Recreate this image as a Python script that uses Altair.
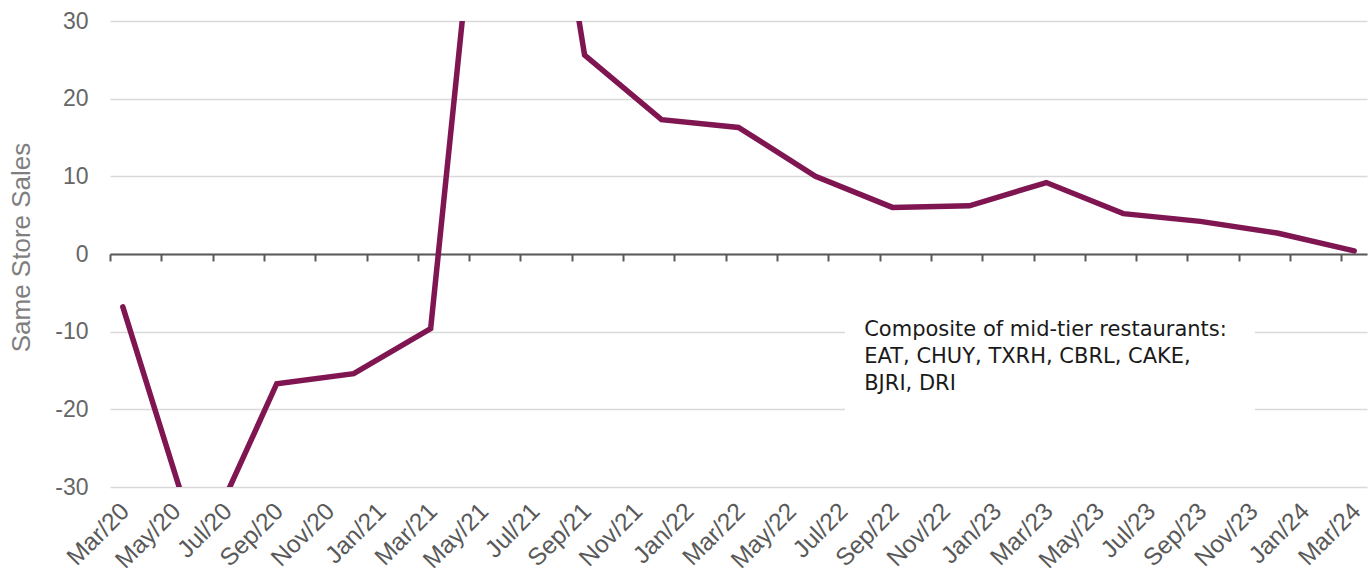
import altair as alt
import pandas as pd

# ---- data ----
month_names = ["Jan", "Feb", "Mar", "Apr", "May", "Jun", "Jul", "Aug", "Sep", "Oct", "Nov", "Dec"]
quarter_labels = ["Mar/20", "Jun/20", "Sep/20", "Dec/20", "Mar/21", "Jun/21", "Sep/21", "Dec/21",
                  "Mar/22", "Jun/22", "Sep/22", "Dec/22", "Mar/23", "Jun/23", "Sep/23", "Dec/23", "Mar/24"]
sss_values = [-6.8, -38.5, -16.7, -15.4, -9.6, 87.0, 25.6, 17.3,
              16.3, 10.0, 6.0, 6.2, 9.2, 5.2, 4.2, 2.7, 0.4]
y_ticks = [-30, -20, -10, 0, 10, 20, 30]
note_text = "Composite of mid-tier restaurants:\nEAT, CHUY, TXRH, CBRL, CAKE,\nBJRI, DRI"

# all months Mar/20 .. Mar/24
all_months = []
for yr in range(20, 25):
    for m in month_names:
        all_months.append(f"{m}/{yr}")
start = all_months.index("Mar/20")
end = all_months.index("Mar/24")
all_months = all_months[start:end + 1]
label_months = all_months[::2]

df = pd.DataFrame({
    "label": quarter_labels,
    "idx": [all_months.index(q) for q in quarter_labels],
    "value": sss_values,
})
tick_df = pd.DataFrame({"pos": [i - 0.5 for i in range(0, len(all_months), 2)]})

W, H = 1257, 466
x_scale = alt.Scale(domain=[-0.5, len(all_months) - 0.5], nice=False, zero=False)
y_scale = alt.Scale(domain=[-30, 30], nice=False)

label_arr = "[" + ",".join(f"'{m}'" for m in label_months) + "]"

line = alt.Chart(df).mark_line(color="#7f1652", strokeWidth=5.5, clip=True,
                               strokeJoin="miter", strokeCap="round").encode(
    x=alt.X("idx:Q", scale=x_scale,
            axis=alt.Axis(orient="bottom", values=list(range(0, len(all_months), 2)),
                          labelExpr=f"{label_arr}[round(datum.value/2)]",
                          labelAngle=-45, labelAlign="right", labelBaseline="top",
                          labelFontSize=24.5, labelFont="Liberation Sans",
                          labelColor="#595959", labelPadding=12, labelOffset=-6,
                          ticks=False, domain=False,
                          grid=False, title=None, labelOverlap=False, labelBound=False)),
    y=alt.Y("value:Q", scale=y_scale,
            axis=alt.Axis(values=y_ticks, labelExpr="'' + datum.value",
                          labelFontSize=23, labelFont="Liberation Sans",
                          labelColor="#666666", labelPadding=22, ticks=False, domain=False,
                          grid=True, gridColor="#d9d9d9", gridWidth=1.5,
                          title="Same Store Sales", titleFontSize=26, titleFont="Liberation Sans",
                          titleFontWeight="normal", titleColor="#7f7f7f",
                          titleX=-81, titleY=226, titleBaseline="alphabetic", titleAlign="center")),
)

note_box = alt.Chart(pd.DataFrame({"x": [28.15], "x2": [44.13], "y": [-6.6], "y2": [-21.4]})).mark_rect(
    fill="white").encode(
    x=alt.X("x:Q", scale=x_scale, axis=None), x2="x2:Q",
    y=alt.Y("y:Q", scale=y_scale, axis=None), y2="y2:Q",
)

note = alt.Chart(pd.DataFrame({"x": [28.9], "y": [-10.5], "t": [note_text]})).mark_text(
    align="left", baseline="alphabetic", font="DejaVu Sans", fontSize=21, color="#1a1a1a",
    lineBreak="\n", lineHeight=27).encode(
    x=alt.X("x:Q", scale=x_scale, axis=None),
    y=alt.Y("y:Q", scale=y_scale, axis=None),
    text="t:N",
)

zero_axis = alt.Chart(tick_df).mark_point(opacity=0).encode(
    x=alt.X("pos:Q", scale=x_scale,
            axis=alt.Axis(orient="bottom", offset=-233, values=tick_df["pos"].tolist(),
                          labels=False, ticks=True, tickSize=7, tickWidth=2, tickColor="#595959",
                          domain=True, domainColor="#595959", domainWidth=2, grid=False, title=None)),
    y=alt.Y("pos:Q", scale=y_scale, axis=None),
)

chart = alt.layer(line, note_box, note, zero_axis).resolve_axis(
    x="independent", y="independent").properties(
    width=W, height=H,
    background="white",
    autosize=alt.AutoSizeParams(type="none"),
    padding={"left": 110, "top": 21, "right": 2, "bottom": 88},
).configure_view(strokeWidth=0, stroke="transparent")

chart.save("out.html", embed_options={"renderer": "svg", "actions": False})
